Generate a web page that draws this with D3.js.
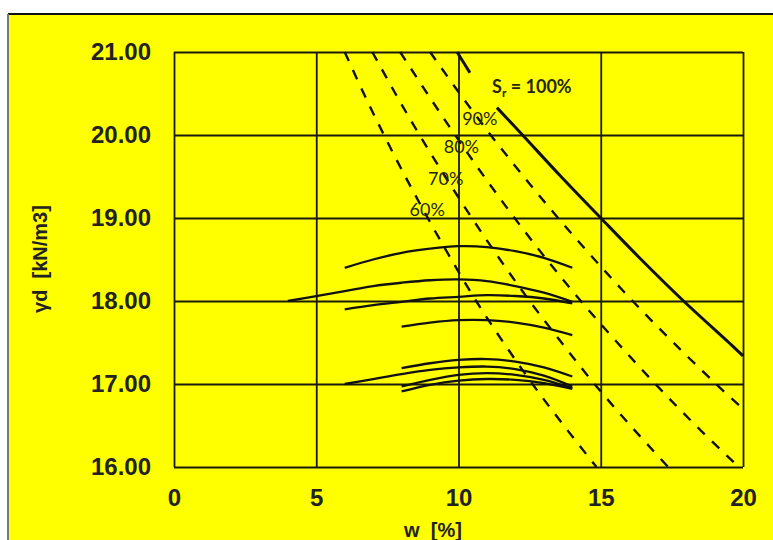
<!DOCTYPE html>
<html>
<head>
<meta charset="utf-8">
<script src="https://cdn.jsdelivr.net/npm/d3@7/dist/d3.min.js"></script>
<style>
html,body{margin:0;padding:0;background:#fff;}
svg{display:block;}
</style>
</head>
<body>
<script>
// ---- data ----
const wTicks = [0, 5, 10, 15, 20];
const gdTicks = [16, 17, 18, 19, 20, 21];

// saturation lines [w %, gamma_d]
const sr100Top = [[9.95, 21.0], [10.4, 20.75]];
const sr100 = [[11.35, 20.33], [12.25, 20.0], [13.6, 19.5], [15.0, 19.0], [16.42, 18.5], [17.91, 18.0], [19.5, 17.5], [20.0, 17.34]];
const sr90 = [[9.0, 21.0], [10.04, 20.5], [11.13, 20.0], [12.29, 19.5], [13.5, 19.0], [14.78, 18.5], [16.12, 18.0], [17.55, 17.5], [19.05, 17.0], [20.0, 16.7]];
const sr80 = [[7.95, 21.0], [8.9, 20.5], [9.88, 20.0], [10.9, 19.5], [11.97, 19.0], [13.1, 18.5], [14.3, 18.0], [15.58, 17.5], [16.92, 17.0], [18.34, 16.5], [19.85, 16.0]];
const sr70 = [[6.97, 21.0], [7.78, 20.5], [8.63, 20.0], [9.53, 19.5], [10.47, 19.0], [11.46, 18.5], [12.5, 18.0], [13.62, 17.5], [14.78, 17.0], [16.04, 16.5], [17.37, 16.0]];
const sr60 = [[6.0, 21.0], [6.67, 20.5], [7.38, 20.0], [8.13, 19.5], [8.92, 19.0], [9.75, 18.5], [10.62, 18.0], [11.58, 17.5], [12.6, 17.0], [13.7, 16.5], [14.85, 16.0]];

// compaction curves
const curveA = [[6, 18.4], [7, 18.5], [8, 18.58], [9, 18.63], [10, 18.66], [11, 18.65], [12, 18.6], [13, 18.52], [14, 18.4]];
const curveB = [[4, 18.0], [5, 18.06], [6, 18.12], [7, 18.18], [8, 18.22], [9, 18.25], [10, 18.26], [11, 18.24], [12, 18.18], [13, 18.1], [14, 17.99]];
const curveC = [[6, 17.9], [7, 17.95], [8, 17.99], [9, 18.03], [10, 18.05], [11, 18.07], [12, 18.06], [13, 18.03], [14, 17.97]];
const curveD = [[8, 17.69], [9, 17.74], [10, 17.77], [11, 17.77], [12, 17.74], [13, 17.68], [14, 17.59]];
const curveE = [[8, 17.19], [9, 17.25], [10, 17.29], [11, 17.3], [12, 17.27], [13, 17.2], [14, 17.09]];
const curveF = [[6, 17.0], [7, 17.06], [8, 17.12], [9, 17.17], [10, 17.2], [11, 17.21], [12, 17.18], [13, 17.1], [14, 16.97]];
const curveG = [[8, 16.97], [9, 17.05], [10, 17.11], [11, 17.13], [12, 17.11], [13, 17.05], [14, 16.95]];
const curveH = [[8, 16.91], [9, 16.99], [10, 17.04], [11, 17.06], [12, 17.05], [13, 17.01], [14, 16.94]];

const satLabels = ["90%", "80%", "70%", "60%"];
const satLabelPos = [[10.75, 20.12], [10.1, 19.78], [9.55, 19.4], [8.9, 19.02]];

// ---- drawing ----
const W = 773, H = 540;
const svg = d3.select("body").append("svg").attr("width", W).attr("height", H);

// frame
svg.append("rect").attr("x", 8).attr("y", 14).attr("width", W - 8).attr("height", H - 14).attr("fill", "#ffff00");
svg.append("line").attr("x1", 8).attr("x2", W).attr("y1", 14).attr("y2", 14).attr("stroke", "#111").attr("stroke-width", 2);
svg.append("line").attr("x1", 8).attr("x2", 8).attr("y1", 14).attr("y2", H).attr("stroke", "#777").attr("stroke-width", 2);

const x = d3.scaleLinear().domain([0, 20]).range([174, 743]);
const y = d3.scaleLinear().domain([16, 21]).range([467, 52]);

const tickFont = "'Liberation Sans', Arial, sans-serif";

const gy = svg.append("g").attr("transform", "translate(174,0)")
  .call(d3.axisLeft(y).tickValues(gdTicks).tickSize(-(743 - 174)).tickPadding(23).tickFormat(d => d.toFixed(2)));
const gx = svg.append("g").attr("transform", "translate(0,467)")
  .call(d3.axisBottom(x).tickValues(wTicks).tickSize(-(467 - 52)).tickPadding(22).tickFormat(d => String(d)));

[gx, gy].forEach(g => {
  g.select(".domain").remove();
  g.selectAll(".tick line").attr("stroke", "#1a1a10").attr("stroke-width", 1.8);
  g.selectAll(".tick text").attr("fill", "#222").attr("font-family", tickFont)
    .attr("font-weight", "bold").attr("font-size", 24);
});

const line = d3.line().x(d => x(d[0])).y(d => y(d[1])).curve(d3.curveCatmullRom);

// saturation lines
[sr90, sr80, sr70, sr60].forEach(s => {
  svg.append("path").attr("d", line(s)).attr("fill", "none").attr("stroke", "#111")
    .attr("stroke-width", 2.4).attr("stroke-dasharray", "10,10");
});
[sr100Top, sr100].forEach(s => {
  svg.append("path").attr("d", line(s)).attr("fill", "none").attr("stroke", "#111").attr("stroke-width", 3);
});

// compaction curves
[curveA, curveB, curveC, curveD, curveE, curveF, curveG, curveH].forEach(c => {
  svg.append("path").attr("d", line(c)).attr("fill", "none").attr("stroke", "#111").attr("stroke-width", 2.3);
});

// labels
const lblFont = "Lato, 'Open Sans', sans-serif";
const sr = svg.append("text").attr("x", 492).attr("y", 93).attr("font-family", lblFont)
  .attr("font-weight", "bold").attr("font-size", 18).attr("fill", "#262610");
sr.append("tspan").text("S");
sr.append("tspan").attr("font-size", 12).attr("dy", 4).text("r");
sr.append("tspan").attr("dy", -4).text(" = 100%");

svg.selectAll("text.sat").data(satLabels).enter().append("text").attr("class", "sat")
  .attr("x", (d, i) => x(satLabelPos[i][0])).attr("y", (d, i) => y(satLabelPos[i][1]))
  .attr("text-anchor", "middle").attr("font-family", lblFont).attr("font-size", 18)
  .attr("fill", "#262610").text(d => d);

// axis titles
svg.append("text").attr("transform", "translate(47,259) rotate(-90)").attr("text-anchor", "middle")
  .attr("font-family", tickFont).attr("font-weight", "bold").attr("font-size", 20).attr("fill", "#222")
  .attr("xml:space", "preserve").text("\u03b3d  [kN/m3]");
svg.append("text").attr("x", 433).attr("y", 537).attr("text-anchor", "middle")
  .attr("font-family", tickFont).attr("font-weight", "bold").attr("font-size", 20).attr("fill", "#222")
  .attr("xml:space", "preserve").text("w  [%]");
</script>
</body>
</html>
